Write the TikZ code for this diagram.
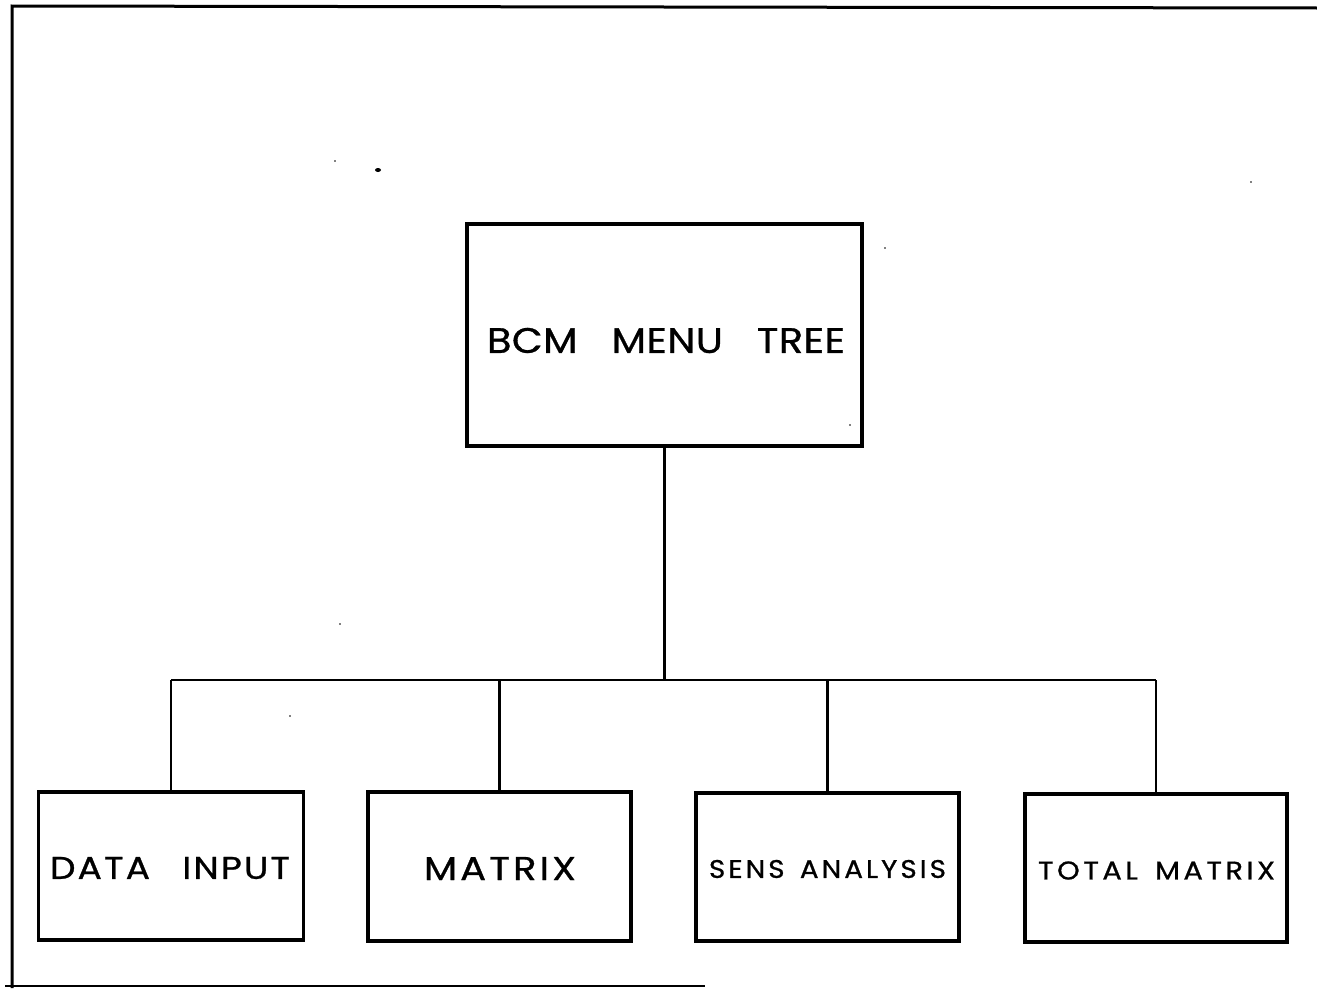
\documentclass[tikz,border=0pt]{standalone}
\usepackage{fontspec}
\usepackage{graphicx}
\setmainfont{Poppins}[FakeBold=0.8]
\begin{document}
\begin{tikzpicture}[x=1pt,y=-1pt,
  box/.style={draw,line width=3.3pt,inner sep=0pt,anchor=center},
  wire/.style={line width=2.2pt},
  frameline/.style={line width=3pt},
  lbl/.style={inner sep=0pt,anchor=center}]
\useasboundingbox (0,0) rectangle (1317,988);
\fill[white] (0,0) rectangle (1317,988);

% sheet border
\draw[frameline] (12,988) -- (12,6) -- (1317,8);
\draw[line width=2.2pt] (5,986) -- (705,986);

% boxes and their captions (each caption scaled to its lettered width and cap height)
\node[box,minimum width=395pt,minimum height=222pt] (root) at (664.5,335) {};
\node[lbl] (rootlbl) at (666,340.5) {\resizebox{358pt}{25pt}{\fontsize{36}{36}\selectfont\addfontfeature{LetterSpace=1}BCM\hspace{0.85em}MENU\hspace{0.85em}TREE}};

\node[box,minimum width=265pt,minimum height=148pt] (data) at (171,866) {};
\node[lbl] (datalbl) at (170,868) {\resizebox{240pt}{22pt}{\fontsize{33}{33}\selectfont\addfontfeature{LetterSpace=6}DATA\hspace{0.9em}INPUT}};

\node[box,minimum width=263pt,minimum height=149pt] (matrix) at (499.5,866.5) {};
\node[lbl] (matrixlbl) at (500,868.5) {\resizebox{152pt}{23pt}{\fontsize{33}{33}\selectfont\addfontfeature{LetterSpace=8}MATRIX}};

\node[box,minimum width=263pt,minimum height=148pt] (sens) at (827.5,867) {};
\node[lbl] (senslbl) at (827.5,869) {\resizebox{237pt}{18pt}{\fontsize{26}{26}\selectfont\addfontfeature{LetterSpace=11}SENS\hspace{0.55em}ANALYSIS}};

\node[box,minimum width=262pt,minimum height=148pt] (total) at (1156,868) {};
\node[lbl] (totallbl) at (1156.5,870.5) {\resizebox{237pt}{18pt}{\fontsize{26}{26}\selectfont\addfontfeature{LetterSpace=12}TOTAL\hspace{0.6em}MATRIX}};

% connectors
\coordinate (bus) at (664.5,680);
\draw[wire] (root.south) -- (bus);
\draw[wire] (data.north |- bus) -- (total.north |- bus);
\draw[wire] (data.north |- bus) -- (data.north);
\draw[wire] (matrix.north |- bus) -- (matrix.north);
\draw[wire] (sens.north |- bus) -- (sens.north);
\draw[wire] (total.north |- bus) -- (total.north);

% specks
\fill (378,170) ellipse (3pt and 2pt);
\fill (335,161) circle (0.8pt);
\fill (1251,182) circle (0.8pt);
\fill (885,248) circle (0.8pt);
\fill (340,624) circle (0.8pt);
\fill (290,716) circle (0.8pt);
\fill (850,425) circle (0.8pt);
\end{tikzpicture}
\end{document}
